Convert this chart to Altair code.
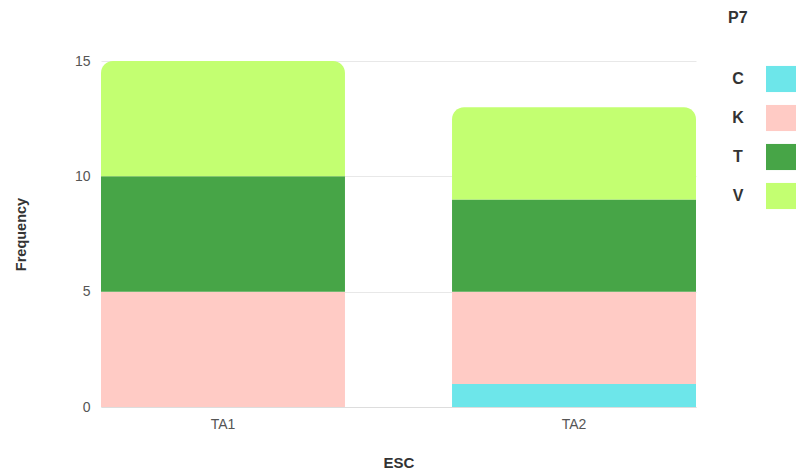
import altair as alt
import pandas as pd

# data
esc = ["TA1", "TA1", "TA1", "TA2", "TA2", "TA2", "TA2"]
p7 = ["K", "T", "V", "C", "K", "T", "V"]
freq = [5, 5, 5, 1, 4, 4, 4]
categories = ["C", "K", "T", "V"]
colors = ["#6de6ea", "#ffcbc5", "#47a547", "#c3ff71"]

df = pd.DataFrame({"ESC": esc, "P7": p7, "Frequency": freq})
df["order"] = df["P7"].map({c: i for i, c in enumerate(categories)})
df = df.sort_values(["ESC", "order"]).reset_index(drop=True)
df["y1"] = df.groupby("ESC")["Frequency"].cumsum()
df["y0"] = df["y1"] - df["Frequency"]
df["top"] = df.groupby("ESC")["order"].transform("max") == df["order"]

FONT = "Liberation Sans"

color_enc_legend = alt.Color(
    "P7:N",
    scale=alt.Scale(domain=categories, range=colors),
    legend=alt.Legend(
        title="P7",
        orient="none",
        legendX=627,
        legendY=-51,
        symbolType="M-1,-0.87H1V0.87H-1Z",
        symbolSize=900,
        symbolOffset=38,
        symbolStrokeWidth=0,
        symbolOpacity=1,
        labelOffset={"expr": "-58"},
        labelAlign="center",
        labelFont=FONT,
        labelFontWeight="bold",
        labelFontSize=16,
        labelColor="#333333",
        titleFont=FONT,
        titleFontSize=16,
        titleFontWeight="bold",
        titleColor="#333333",
        titlePadding=38,
        rowPadding=10,
    ),
)

x_enc = alt.X(
    "ESC:N",
    title="ESC",
    scale=alt.Scale(paddingInner=0.305, paddingOuter=0),
    axis=alt.Axis(
        labelAngle=0, ticks=False, domain=True, domainColor="#dddddd",
        labelPadding=10, titlePadding=24, labelColor="#555555",
        labelFontSize=14, titleFontSize=15, titleFontWeight="bold",
        titleColor="#333333", labelFont=FONT, titleFont=FONT,
    ),
)
y_enc = alt.Y(
    "y1:Q",
    title="Frequency",
    scale=alt.Scale(domain=[0, 15]),
    axis=alt.Axis(
        values=[0, 5, 10, 15], grid=True, gridColor="#e8e8e8", domain=False,
        ticks=False, labelPadding=11, titlePadding=46, labelColor="#555555",
        labelFontSize=14, titleFontSize=14.5, titleFontWeight="bold",
        titleColor="#333333", labelFont=FONT, titleFont=FONT,
    ),
)

base = alt.Chart(df)

lower = base.transform_filter("!datum.top").mark_bar().encode(
    x=x_enc, y=y_enc, y2="y0:Q", color=color_enc_legend
)
upper = base.transform_filter("datum.top").mark_bar(
    cornerRadiusTopLeft=12, cornerRadiusTopRight=12
).encode(x=x_enc, y=y_enc, y2="y0:Q", color=color_enc_legend)

chart = (
    alt.layer(lower, upper)
    .properties(
        width=595, height=346,
        padding={"left": 5, "top": 2, "right": 0, "bottom": 5},
    )
    .configure_view(stroke=None)
)

chart.save("out.html", embed_options={"renderer": "svg", "actions": False})
